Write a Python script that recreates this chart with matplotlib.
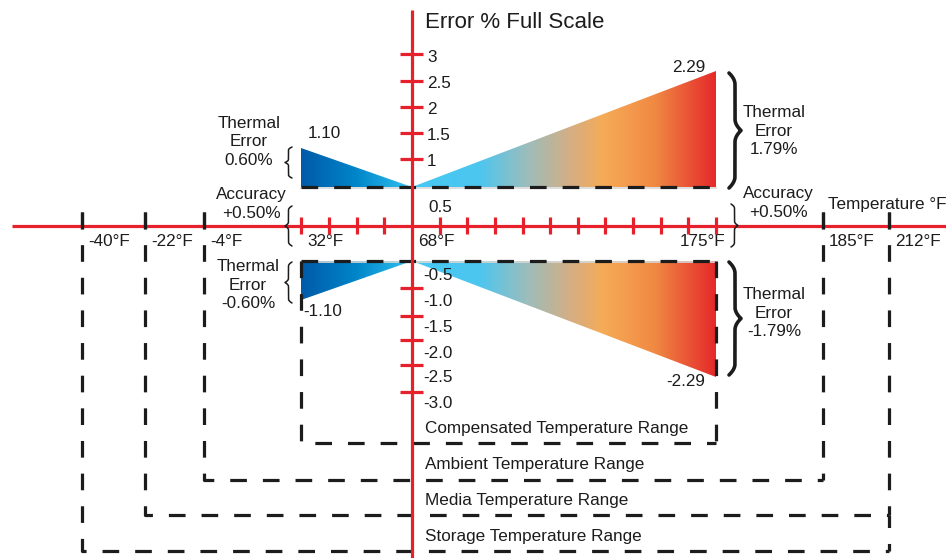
import numpy as np
import matplotlib
matplotlib.use("Agg")
import matplotlib.pyplot as plt
from matplotlib.colors import LinearSegmentedColormap
from matplotlib.patches import Polygon

plt.rcParams['font.family'] = ['Liberation Sans', 'DejaVu Sans']
plt.rcParams['lines.scale_dashes'] = False

# ---- data ----
temps = [-40, -22, -4, 32, 68, 175, 185, 212]
temp_labels = ["-40°F", "-22°F", "-4°F", "32°F", "68°F", "175°F", "185°F", "212°F"]
ref_temp = 68
accuracy = 0.50
tip_temps = [32, 175]
tip_errors = [1.10, 2.29]
thermal_errors = [0.60, 1.79]
pos_tick_labels = ["3", "2.5", "2", "1.5", "1"]
neg_tick_labels = ["-0.5", "-1.0", "-1.5", "-2.0", "-2.5", "-3.0"]
range_names = ["Compensated Temperature Range", "Ambient Temperature Range",
               "Media Temperature Range", "Storage Temperature Range"]
range_lo = [32, -4, -22, -40]
range_hi = [175, 185, 212, 212]

# ---- layout (pixel canvas, y grows downward) ----
W, H = 946, 558
TEMP_X = [82, 145, 204, 301, 412, 716, 823, 889]   # non-uniform temperature axis
Y_AXIS = 226
BAND_TOP, BAND_BOT = 187, 261     # +/- accuracy lines
PX_PER_PCT = 65
POS_TICK_Y = [54, 81, 107, 133, 159]
NEG_TICK_Y = [288, 316, 340, 365, 392]
NEG_LABEL_Y = [275, 301, 327, 353, 378, 404]
RANGE_BOTTOM = [443, 480, 515, 551]
RED = "#e6212b"
INK = "#1c1c1c"
FS = 12.3
DASH = (0, (12, 11.5))


def tx(t):
    return np.interp(t, temps, TEMP_X)


fig = plt.figure(figsize=(W / 100, H / 100), dpi=100)
ax = fig.add_axes([0, 0, 1, 1])
ax.set_xlim(0, W)
ax.set_ylim(H, 0)
ax.axis("off")

# ---- gradient triangles ----
left_cmap = LinearSegmentedColormap.from_list("l", [(0, "#005aa8"), (0.5, "#0086ca"),
                                                     (0.85, "#25b1e6"), (1, "#46c6f2")])
right_cmap = LinearSegmentedColormap.from_list("r", [(0, "#46c8f4"), (0.22, "#4cc6ef"),
                                                      (0.38, "#9cbdbb"), (0.52, "#d4ae84"),
                                                      (0.63, "#f6ab57"), (0.8, "#f08943"),
                                                      (1, "#e52a2b")])
grad = np.linspace(0, 1, 256).reshape(1, -1)
x0 = tx(ref_temp)
for t_tip, therm, cmap in zip(tip_temps, thermal_errors, [left_cmap, right_cmap]):
    xt = tx(t_tip)
    h = therm * PX_PER_PCT
    for base, sgn in [(BAND_TOP, -1), (BAND_BOT, 1)]:
        poly = Polygon([(x0, base), (xt, base), (xt, base + sgn * h)], closed=True,
                       facecolor="none", edgecolor="none")
        ax.add_patch(poly)
        ylo, yhi = sorted([base, base + sgn * h])
        im = ax.imshow(grad, cmap=cmap, aspect="auto", interpolation="bilinear",
                       extent=[min(xt, x0), max(xt, x0), yhi, ylo], zorder=1)
        im.set_clip_path(poly)

# accuracy band lines
xc0, xc1 = tx(range_lo[0]), tx(range_hi[0])
for yb in [BAND_TOP, BAND_BOT]:
    ax.plot([xc0, xc1], [yb + 1, yb + 1], color="#d8d8d8", lw=1.2, zorder=2)
    ax.plot([xc0, xc1], [yb, yb], color=INK, lw=2.3, ls=DASH, zorder=3)

# ---- range boxes ----
for i, (lo, hi, yb, name) in enumerate(zip(range_lo, range_hi, RANGE_BOTTOM, range_names)):
    xl, xr = tx(lo), tx(hi)
    ytop = BAND_BOT if i == 0 else 212
    ax.plot([xl, xl, xr], [ytop, yb, yb], color=INK, lw=2.3, ls=DASH, zorder=3)
    if i != 3:
        ax.plot([xr, xr], [ytop, yb], color=INK, lw=2.3, ls=DASH, zorder=3)
    else:
        ax.plot([xr, xr], [RANGE_BOTTOM[2], yb], color=INK, lw=2.3, ls=(3, (12, 11.5)), zorder=3)
    ax.text(425, yb - 15, name, fontsize=FS, color=INK, va="center", ha="left")

# ---- red axes ----
ax.plot([12, W], [Y_AXIS, Y_AXIS], color=RED, lw=2.3, zorder=4, solid_capstyle="butt")
ax.plot([x0, x0], [10, H], color=RED, lw=2.3, zorder=4, solid_capstyle="butt")
minor = list(np.linspace(32, 68, 5)[:-1]) + list(68 + np.arange(1, 12) * (175 - 68) / 11)
for t in minor:
    ax.plot([tx(t), tx(t)], [217, 234], color=RED, lw=2.3, zorder=4, solid_capstyle="butt")
for y in POS_TICK_Y + NEG_TICK_Y:
    ax.plot([400, 423], [y, y], color=RED, lw=2.3, zorder=4, solid_capstyle="butt")
for t in [-40, -22, -4, 185, 212]:
    ax.plot([tx(t), tx(t)], [212, 229], color=INK, lw=2.3, zorder=5, solid_capstyle="butt")

# tick labels
for y, lab in zip(POS_TICK_Y, pos_tick_labels):
    ax.text(427, y + 3, lab, fontsize=FS, color=INK, va="center", ha="left")
ax.text(428, 208, "0.5", fontsize=FS, color=INK, va="center", ha="left")
for y, lab in zip(NEG_LABEL_Y, neg_tick_labels):
    ax.text(423, y, lab, fontsize=FS, color=INK, va="center", ha="left")
for t, lab in zip(temps, temp_labels):
    if t == 175:
        ax.text(tx(t) + 9, 242, lab, fontsize=FS, color=INK, va="center", ha="right")
    else:
        ax.text(tx(t) + 6, 242, lab, fontsize=FS, color=INK, va="center", ha="left")

ax.text(425, 23, "Error % Full Scale", fontsize=16, color=INK, va="center", ha="left")
ax.text(828, 205, "Temperature °F", fontsize=FS, color=INK, va="center", ha="left")

# tip values
ax.text(308, 134, f"{tip_errors[0]:.2f}", fontsize=FS, color=INK, va="center", ha="left")
ax.text(303, 312, f"-{tip_errors[0]:.2f}", fontsize=FS, color=INK, va="center", ha="left")
ax.text(705, 67, f"{tip_errors[1]:.2f}", fontsize=FS, color=INK, va="center", ha="right")
ax.text(705, 381, f"-{tip_errors[1]:.2f}", fontsize=FS, color=INK, va="center", ha="right")

# annotations
kw = dict(fontsize=FS, color=INK, va="center", ha="center", linespacing=1.3)
ax.text(249, 142, f"Thermal\nError\n{thermal_errors[0]:.2f}%", **kw)
ax.text(248, 285, f"Thermal\nError\n-{thermal_errors[0]:.2f}%", **kw)
ax.text(251, 204, f"Accuracy\n+{accuracy:.2f}%", **kw)
ax.text(774, 131, f"Thermal\nError\n{thermal_errors[1]:.2f}%", **kw)
ax.text(774, 313, f"Thermal\nError\n-{thermal_errors[1]:.2f}%", **kw)
ax.text(778, 203, f"Accuracy\n+{accuracy:.2f}%", **kw)


def brace(x, y0, y1, w, lw, direction=1):
    u = np.linspace(0, 1, 120)
    c = 0.2
    off = np.where(u < c, 1 - (1 - u / c) ** 2, 1.0) * w / 2
    off = off + np.where(u > 1 - c, ((u - (1 - c)) / c) ** 2, 0) * w / 2
    ym = (y0 + y1) / 2
    ys = np.r_[y0 + u * (ym - y0), (y1 - u * (y1 - ym))[::-1]]
    xs = x + direction * np.r_[off, off[::-1]]
    ax.plot(xs, ys, color=INK, lw=lw, zorder=5, solid_capstyle="round")


brace(292, 147, 178, 7, 1.1, -1)
brace(292, 206, 246, 7, 1.1, -1)
brace(292, 262, 303, 7, 1.1, -1)
brace(729, 73, 188, 12, 2.6, 1)
brace(731, 204, 247, 7, 1.1, 1)
brace(729, 262, 375, 12, 2.6, 1)

fig.savefig("out.png", dpi=100)
